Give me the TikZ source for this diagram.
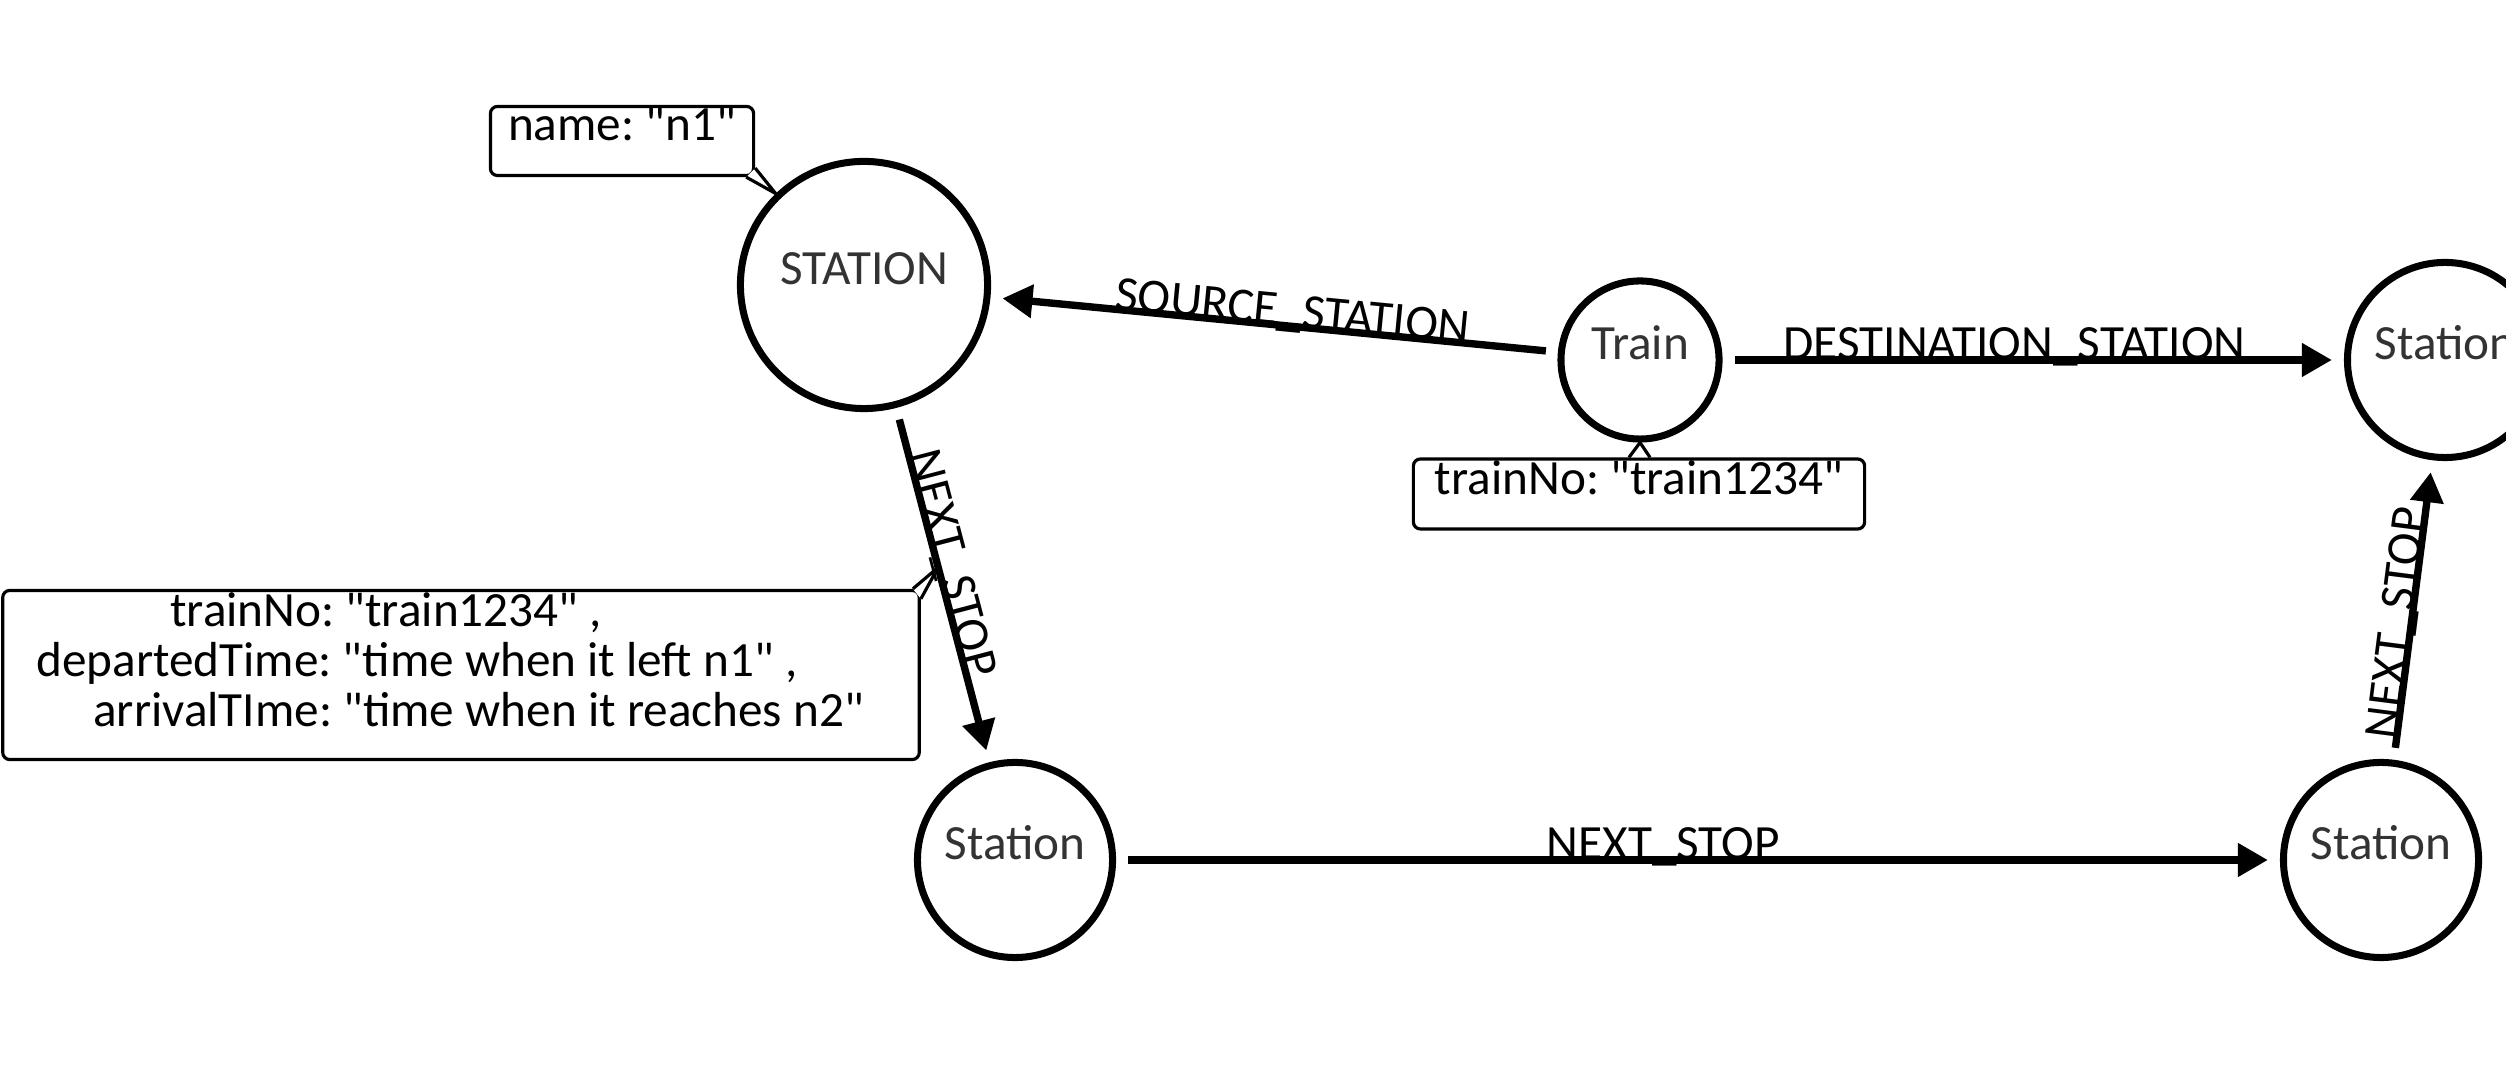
\documentclass[tikz,border=0pt]{standalone}
\usepackage{fontspec}
\setmainfont{Carlito}[Ligatures=TeXOff]
\usetikzlibrary{arrows.meta}
\frenchspacing

\begin{document}
\begin{tikzpicture}[x=0.01cm,y=0.01cm,font=\fontsize{14}{14.2}\selectfont,
  station/.style={draw,circle,line width=2pt,minimum size=1.95cm,inner sep=0pt,
    text height=0.3cm,text depth=0.3cm,text=black!80},
  rel/.style={-{Triangle[length=0.3cm,width=0.32cm]},line width=2.1pt,
    shorten <=0.12cm,shorten >=0.12cm},
  rlabel/.style={sloped,anchor=base,inner sep=0pt,pos=.47},
  prop/.style={draw,rounded corners=0.07cm,line width=0.9pt,fill=white,inner sep=0pt},
  tail/.style={draw,fill=white,line width=0.9pt,line join=round}]
\useasboundingbox (0,0) rectangle (2506,-1071);
\clip (0,0) rectangle (2506,-1071);
\node[station,minimum size=2.47cm] (n1) at (864,-285) {STATION};
\node[station,minimum size=1.58cm] (n0) at (1640,-360) {Train};
\node[station] (n4) at (2445,-360) {Station};
\node[station] (n2) at (1015,-860) {Station};
\node[station] (n3) at (2381,-860) {Station};
\draw[rel] (n0) -- (n1) node[rlabel] {SOURCE\_STATION};
\draw[rel] (n0) -- (n4) node[rlabel] {DESTINATION\_STATION};
\draw[rel] (n1) -- (n2) node[rlabel,pos=.45] {NEXT\_STOP} coordinate[pos=.45] (m12);
\draw[rel] (n2) -- (n3) node[rlabel] {NEXT\_STOP};
\draw[rel] (n3) -- (n4) node[rlabel,pos=.45] {NEXT\_STOP};
% property boxes
\node[prop,minimum width=2.63cm,text height=0.34cm,text depth=0.35cm] (p1) at (622,-141) {name: "n1"};
\node[prop,minimum width=4.51cm,text height=0.36cm,text depth=0.34cm] (p0) at (1639,-494) {trainNo: "train1234"};
\node[prop,minimum width=9.16cm,minimum height=1.69cm,align=left] (p12) at (461,-675)
  {\hspace*{1.34cm}trainNo: "train1234" ,\strut\\
   departedTime: "time when it left n1" ,\\
   \hspace*{0.57cm}arrivalTIme: "time when it reaches n2"\hspace*{0.22cm}\rule[-0.32cm]{0pt}{0.32cm}};
\filldraw[tail] ([xshift=-0.09cm]p1.south east) -- (n1.134) -- ([yshift=0.09cm]p1.south east);
\filldraw[tail] ([xshift=-0.1cm]p0.north) -- (n0.south) -- ([xshift=0.11cm]p0.north);
\filldraw[tail] ([xshift=-0.08cm]p12.north east) -- (m12) -- ([yshift=-0.1cm]p12.north east);
\end{tikzpicture}
\end{document}
